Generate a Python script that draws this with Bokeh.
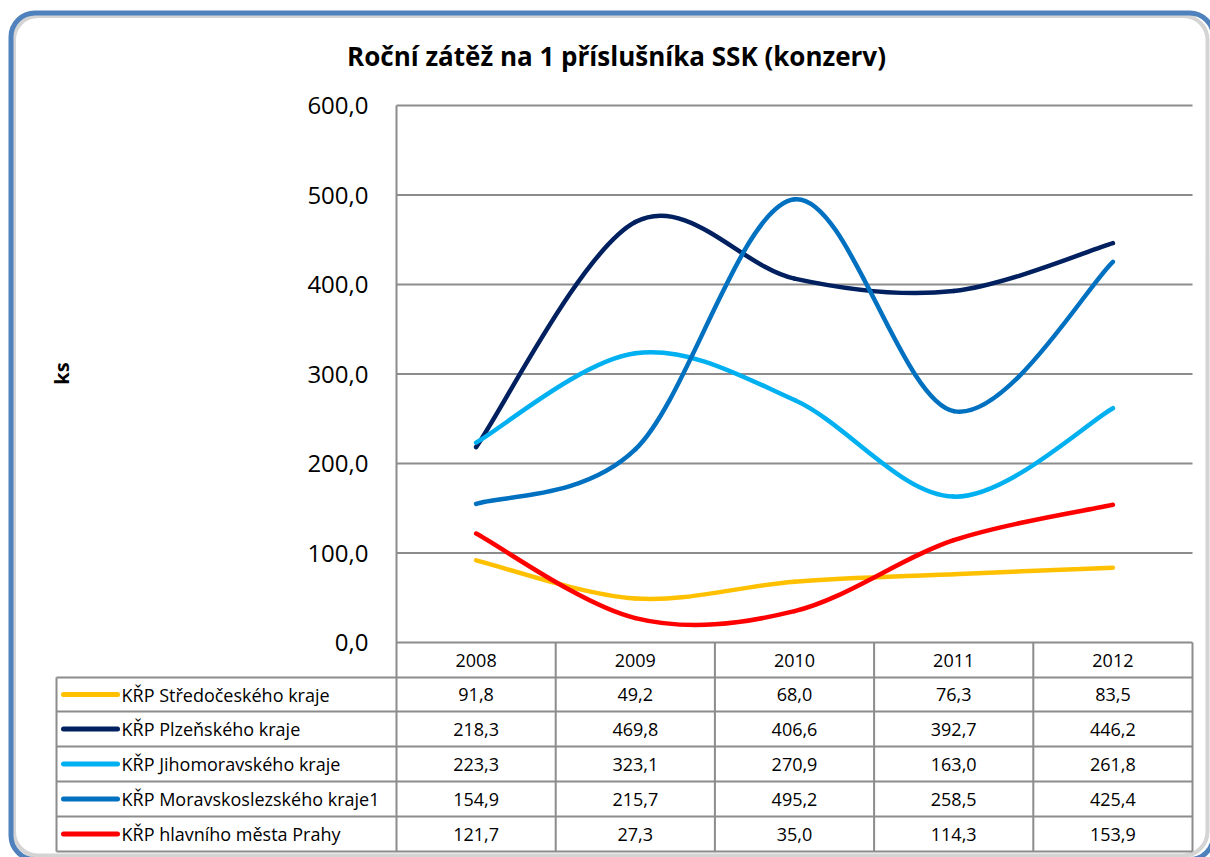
from bokeh.plotting import figure
from bokeh.models import FixedTicker, BoxAnnotation, Label, ColumnDataSource
from bokeh.core.properties import value
from bokeh.embed import file_html
from bokeh.resources import INLINE

# ---------------- data ----------------
YEARS = [2008, 2009, 2010, 2011, 2012]
SERIES_NAMES = [
    "KŘP Středočeského kraje",
    "KŘP Plzeňského kraje",
    "KŘP Jihomoravského kraje",
    "KŘP Moravskoslezského kraje1",
    "KŘP hlavního města Prahy",
]
STREDOCESKY = [91.8, 49.2, 68.0, 76.3, 83.5]
PLZENSKY = [218.3, 469.8, 406.6, 392.7, 446.2]
JIHOMORAVSKY = [223.3, 323.1, 270.9, 163.0, 261.8]
MORAVSKOSLEZSKY = [154.9, 215.7, 495.2, 258.5, 425.4]
PRAHA = [121.7, 27.3, 35.0, 114.3, 153.9]
SERIES_VALUES = [STREDOCESKY, PLZENSKY, JIHOMORAVSKY, MORAVSKOSLEZSKY, PRAHA]
COLORS = ["#FFC000", "#002060", "#00B0F0", "#0070C0", "#FF0000"]
Y_TICKS = [0, 100, 200, 300, 400, 500, 600]
TITLE = "Roční zátěž na 1 příslušníka SSK (konzerv)"
Y_LABEL = "ks"

FONT = "Open Sans"
GRID = "#8C8C8C"

# ---------------- layout (canvas pixels) ----------------
W, H = 1210, 857
PLOT_L, PLOT_R, PLOT_T, PLOT_B = 396, 1192, 105, 642
LEG_L = 56
ROW_EDGES = [642, 677, 711, 746, 781, 816, 851]

x_lo, x_hi = YEARS[0] - 0.5, YEARS[-1] + 0.5
y_lo, y_hi = Y_TICKS[0], Y_TICKS[-1]
sx = (PLOT_R - PLOT_L) / (x_hi - x_lo)
sy = (PLOT_B - PLOT_T) / (y_hi - y_lo)


def xd(px):
    return x_lo + (px - PLOT_L) / sx


def yd(py):
    return y_lo + (PLOT_B - py) / sy


p = figure(
    width=W, height=H,
    x_range=(xd(0), xd(W)),
    y_range=(yd(H), yd(0)),
    output_backend="svg", toolbar_location=None,
    min_border=0,
    background_fill_color="white", border_fill_color="white",
)
p.outline_line_color = None
p.xgrid.visible = False
p.ygrid.visible = False
p.xaxis.visible = False

# chart border: soft grey shadow (right/bottom) and blue rounded frame (top/left)
p.add_layout(BoxAnnotation(left=xd(13.5), right=xd(1207), top=yd(15.5), bottom=yd(855),
                           fill_color=None, line_color="#D4D4D4", line_alpha=1.0,
                           line_width=4, border_radius=24, level="underlay"))
p.add_layout(BoxAnnotation(left=xd(10.5), right=xd(1213), top=yd(12.5), bottom=yd(859),
                           fill_color=None, line_color="#4F81BD", line_alpha=1.0,
                           line_width=5, border_radius=24, level="underlay"))

# y axis at the plot-area left edge
yax = p.yaxis[0]
yax.fixed_location = x_lo
yax.ticker = FixedTicker(ticks=Y_TICKS)
yax.major_label_overrides = {t: f"{t:.1f}".replace(".", ",") for t in Y_TICKS}
yax.major_label_text_font = FONT
yax.major_label_text_font_size = "24px"
yax.major_label_text_color = "black"
yax.axis_line_color = None
yax.major_tick_line_color = None
yax.minor_tick_line_color = None
yax.major_label_standoff = 22

# horizontal grid lines of the plot area
p.segment(x0=[x_lo] * len(Y_TICKS), x1=[x_hi] * len(Y_TICKS), y0=Y_TICKS, y1=Y_TICKS,
          line_color=GRID, line_width=2)

# ---------------- table ----------------
row_y = [yd(r) for r in ROW_EDGES]
leg_x = xd(LEG_L)
p.segment(x0=[x_lo], x1=[x_lo], y0=[y_hi], y1=[row_y[-1]], line_color=GRID, line_width=2)
col_edges = [y - 0.5 for y in YEARS[1:]] + [x_hi]
p.segment(x0=col_edges, x1=col_edges, y0=[row_y[0]] * len(col_edges), y1=[row_y[-1]] * len(col_edges),
          line_color=GRID, line_width=2)
p.segment(x0=[leg_x], x1=[leg_x], y0=[row_y[1]], y1=[row_y[-1]], line_color=GRID, line_width=2)
hy = row_y[1:]
p.segment(x0=[leg_x] * len(hy), x1=[x_hi] * len(hy), y0=hy, y1=hy, line_color=GRID, line_width=2)

row_mid = [(row_y[i] + row_y[i + 1]) / 2 for i in range(len(row_y) - 1)]

p.text(x=YEARS, y=[row_mid[0]] * len(YEARS), text=[str(y) for y in YEARS],
       text_font=value(FONT), text_font_size="18px", text_align="center",
       text_baseline="middle", text_color="black")

cx, cy, ct = [], [], []
for i, vals in enumerate(SERIES_VALUES):
    for yr, v in zip(YEARS, vals):
        cx.append(yr)
        cy.append(row_mid[i + 1])
        ct.append(f"{v:.1f}".replace(".", ","))
p.text(x=cx, y=cy, text=ct, text_font=value(FONT), text_font_size="18px",
       text_align="center", text_baseline="middle", text_color="black")

key_x0, key_x1, name_x = xd(63), xd(117), xd(121)
for i, (name, col) in enumerate(zip(SERIES_NAMES, COLORS)):
    ym = row_mid[i + 1]
    p.segment(x0=[key_x0], x1=[key_x1], y0=[ym], y1=[ym], line_color=col, line_width=5,
              line_cap="round")
    p.text(x=[name_x], y=[ym], text=[name], text_font=value(FONT), text_font_size="18px",
           text_align="left", text_baseline="middle", text_color="black")

# ---------------- smoothed series lines ----------------
for vals, col in zip(SERIES_VALUES, COLORS):
    n = len(YEARS)
    d = dict(x0=[], y0=[], x1=[], y1=[], cx0=[], cy0=[], cx1=[], cy1=[])
    for i in range(n - 1):
        a = max(i - 1, 0)
        b = min(i + 2, n - 1)
        d["x0"].append(YEARS[i]); d["y0"].append(vals[i])
        d["x1"].append(YEARS[i + 1]); d["y1"].append(vals[i + 1])
        d["cx0"].append(YEARS[i] + (YEARS[i + 1] - YEARS[a]) / 6)
        d["cy0"].append(vals[i] + (vals[i + 1] - vals[a]) / 6)
        d["cx1"].append(YEARS[i + 1] - (YEARS[b] - YEARS[i]) / 6)
        d["cy1"].append(vals[i + 1] - (vals[b] - vals[i]) / 6)
    p.bezier(x0="x0", y0="y0", x1="x1", y1="y1", cx0="cx0", cy0="cy0", cx1="cx1", cy1="cy1",
             source=ColumnDataSource(d), line_color=col, line_width=4.5, line_cap="round")

# title
p.add_layout(Label(x=xd(616), y=yd(55), text=TITLE,
                   text_font=FONT, text_font_style="bold", text_font_size="26px",
                   text_align="center", text_baseline="middle", text_color="black"))

# y-axis title
p.add_layout(Label(x=xd(61), y=yd(373), text=Y_LABEL, angle=1.5708, angle_units="rad",
                   text_font=FONT, text_font_style="bold", text_font_size="20px",
                   text_align="center", text_baseline="middle", text_color="black"))

open("out.html", "w").write(file_html(p, INLINE))
